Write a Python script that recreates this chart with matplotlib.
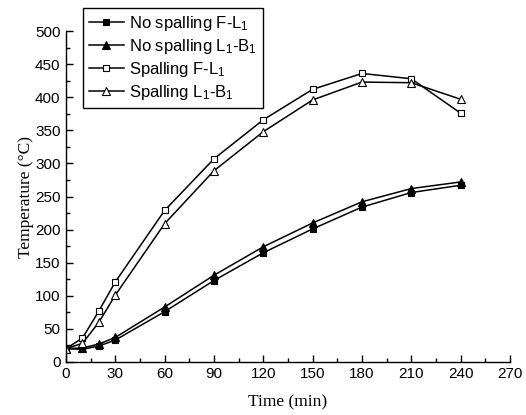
import matplotlib.pyplot as plt
from matplotlib.ticker import MultipleLocator

# Temperatures at the measuring points during fire exposure
time_min = [0, 10, 20, 30, 60, 90, 120, 150, 180, 210, 240]
nospall_f_l1 = [20, 19, 24, 33, 76, 123, 165, 201, 234, 256, 267]
nospall_l1_b1 = [20, 21, 27, 37, 83, 131, 174, 210, 242, 262, 272]
spall_f_l1 = [20, 36, 77, 121, 229, 307, 366, 412, 436, 428, 376]
spall_l1_b1 = [20, 28, 60, 101, 209, 289, 348, 396, 423, 422, 397]

labels = ['No spalling F-L$_1$', 'No spalling L$_1$-B$_1$',
          'Spalling F-L$_1$', 'Spalling L$_1$-B$_1$']

plt.rcParams['mathtext.default'] = 'regular'
plt.rcParams['font.family'] = 'Liberation Sans'

fig = plt.figure(figsize=(5.26, 4.15), dpi=100)
ax = fig.add_axes([0.1255, 0.128, 0.844, 0.797])

kw = dict(color='black', lw=1.1, markeredgewidth=0.8)
ax.plot(time_min, nospall_f_l1, marker='s', markersize=5, markerfacecolor='black', label=labels[0], **kw)
ax.plot(time_min, nospall_l1_b1, marker='^', markersize=6, markerfacecolor='black', label=labels[1], **kw)
ax.plot(time_min, spall_f_l1, marker='s', markersize=5, markerfacecolor='white', label=labels[2], **kw)
ax.plot(time_min, spall_l1_b1, marker='^', markersize=6, markerfacecolor='white', label=labels[3], **kw)

ax.set_xlim(0, 270)
ax.set_ylim(0, 500)
ax.xaxis.set_major_locator(MultipleLocator(30))
ax.xaxis.set_minor_locator(MultipleLocator(15))
ax.yaxis.set_major_locator(MultipleLocator(50))
ax.yaxis.set_minor_locator(MultipleLocator(25))
ax.tick_params(which='both', direction='in', labelsize=11, width=1)
ax.tick_params(which='major', length=5, pad=4)
ax.tick_params(which='minor', length=3)
ax.spines['top'].set_visible(False)
ax.spines['right'].set_visible(False)
for s in ('left', 'bottom'):
    ax.spines[s].set_linewidth(1)

ax.set_xlabel('Time (min)', family='Liberation Serif', fontsize=12.5, labelpad=9)
ax.set_ylabel('Temperature (°C)', family='Liberation Serif', fontsize=12.5, labelpad=1)

leg = ax.legend(loc='upper left', bbox_to_anchor=(0.158, 0.981),
                bbox_transform=fig.transFigure, fontsize=12, handlelength=2.1,
                handletextpad=0.3, borderpad=0.35, labelspacing=0.25,
                fancybox=False, framealpha=1, edgecolor='black', borderaxespad=0)
leg.get_frame().set_linewidth(1)

fig.savefig('out.png', dpi=100)
